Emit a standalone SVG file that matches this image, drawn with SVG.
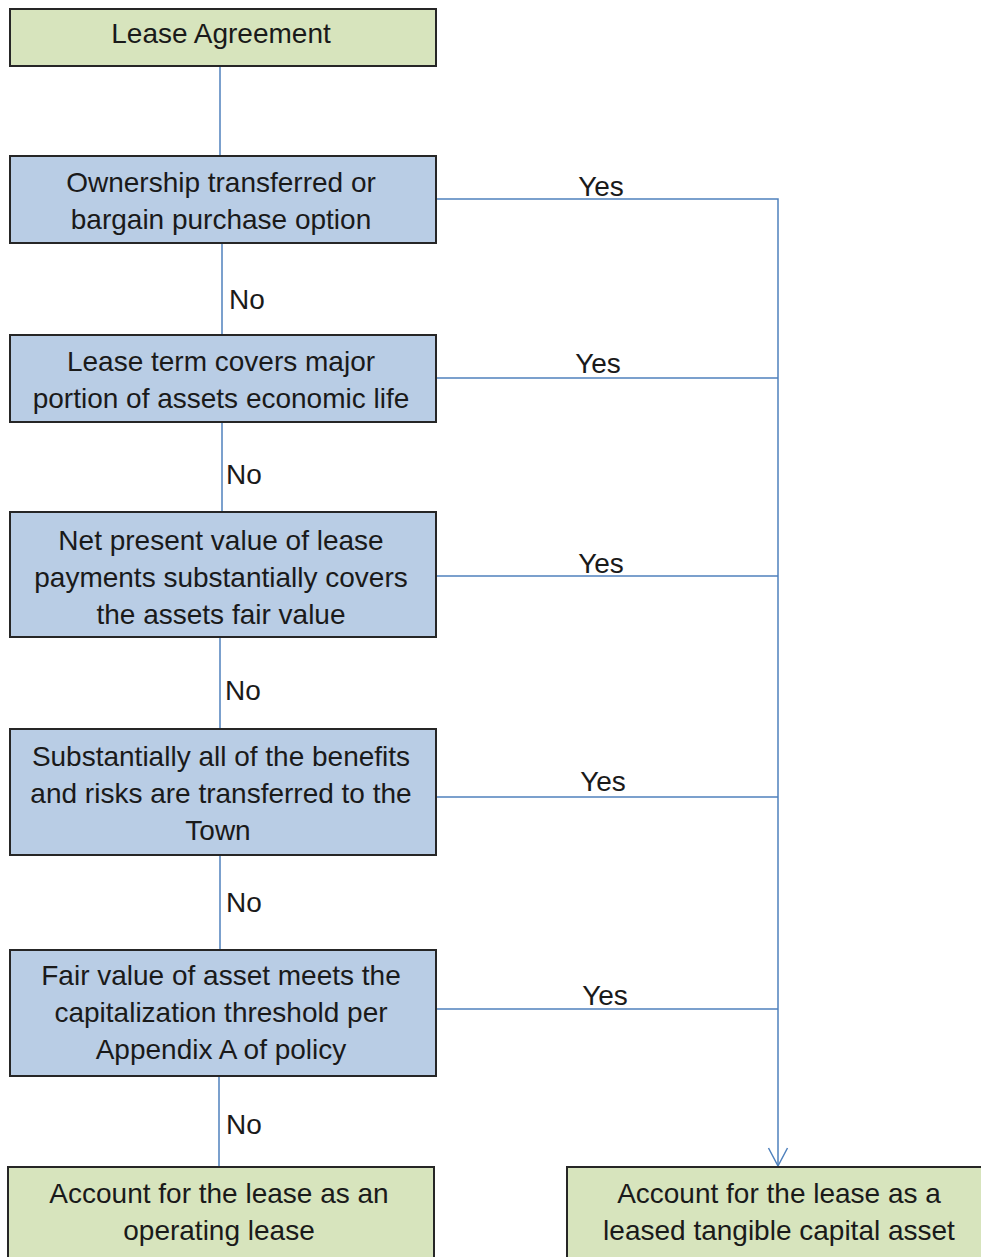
<svg xmlns="http://www.w3.org/2000/svg" width="981" height="1257" viewBox="0 0 981 1257">
<style>
.g{fill:#d7e4bd;stroke:#262626;stroke-width:2}
.b{fill:#b9cde5;stroke:#262626;stroke-width:2}
text{font-family:"Liberation Sans",Arial,sans-serif;font-size:28px;fill:#1a1a1a}
.c{text-anchor:middle}
.l{fill:none;stroke:#4f81bd;stroke-width:1.5}
</style>
<defs>
<marker id="arr" markerUnits="userSpaceOnUse" markerWidth="24" markerHeight="24" viewBox="-12 -20 24 24" refX="0" refY="0" orient="auto">
<polyline points="-18,-9.5 0,0 -18,9.5" fill="none" stroke="#4f81bd" stroke-width="1.5"/>
</marker>
</defs>
<rect width="981" height="1257" fill="#fff"/>
<g id="connectors">
<line class="l" x1="220" y1="66" x2="220" y2="156"/>
<line class="l" x1="222" y1="243" x2="222" y2="335"/>
<line class="l" x1="222" y1="422" x2="222" y2="512"/>
<line class="l" x1="220" y1="637" x2="220" y2="729"/>
<line class="l" x1="220" y1="855" x2="220" y2="950"/>
<line class="l" x1="219" y1="1076" x2="219" y2="1167"/>
<polyline class="l" points="436,199 778,199 778,1166"/>
<line class="l" x1="436" y1="378" x2="778" y2="378"/>
<line class="l" x1="436" y1="576" x2="778" y2="576"/>
<line class="l" x1="436" y1="797" x2="778" y2="797"/>
<line class="l" x1="436" y1="1009" x2="778" y2="1009"/>
<polyline class="l" points="768.5,1148 778,1166 787.5,1148"/>
<text x="601" y="196" class="c">Yes</text>
<text x="598" y="373" class="c">Yes</text>
<text x="601" y="573" class="c">Yes</text>
<text x="603" y="791" class="c">Yes</text>
<text x="605" y="1005" class="c">Yes</text>
<text x="229" y="309">No</text>
<text x="226" y="484">No</text>
<text x="225" y="700">No</text>
<text x="226" y="912">No</text>
<text x="226" y="1134">No</text>
</g>
<g id="start">
<rect class="g" x="10" y="9" width="426" height="57"/>
<text x="221" y="43" class="c">Lease Agreement</text>
</g>
<g id="q1">
<rect class="b" x="10" y="156" width="426" height="87"/>
<text x="221" y="192" class="c">Ownership transferred or</text>
<text x="221" y="229" class="c">bargain purchase option</text>
</g>
<g id="q2">
<rect class="b" x="10" y="335" width="426" height="87"/>
<text x="221" y="371" class="c">Lease term covers major</text>
<text x="221" y="408" class="c">portion of assets economic life</text>
</g>
<g id="q3">
<rect class="b" x="10" y="512" width="426" height="125"/>
<text x="221" y="550" class="c">Net present value of lease</text>
<text x="221" y="587" class="c">payments substantially covers</text>
<text x="221" y="624" class="c">the assets fair value</text>
</g>
<g id="q4">
<rect class="b" x="10" y="729" width="426" height="126"/>
<text x="221" y="766" class="c">Substantially all of the benefits</text>
<text x="221" y="803" class="c">and risks are transferred to the</text>
<text x="218" y="840" class="c">Town</text>
</g>
<g id="q5">
<rect class="b" x="10" y="950" width="426" height="126"/>
<text x="221" y="985" class="c">Fair value of asset meets the</text>
<text x="221" y="1022" class="c">capitalization threshold per</text>
<text x="221" y="1059" class="c">Appendix A of policy</text>
</g>
<g id="operating">
<rect class="g" x="8" y="1167" width="426" height="100"/>
<text x="219" y="1203" class="c">Account for the lease as an</text>
<text x="219" y="1240" class="c">operating lease</text>
</g>
<g id="capital">
<rect class="g" x="567" y="1167" width="430" height="100"/>
<text x="779" y="1203" class="c">Account for the lease as a</text>
<text x="779" y="1240" class="c">leased tangible capital asset</text>
</g>
</svg>
